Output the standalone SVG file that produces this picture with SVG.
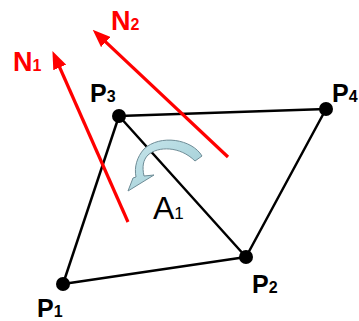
<svg xmlns="http://www.w3.org/2000/svg" width="359" height="321" viewBox="0 0 359 321">
<style>
.edge{stroke:#000;stroke-width:2.5;fill:none;stroke-linecap:round}
.dot{fill:#000}
.plab{font-family:"Liberation Sans",Arial,sans-serif;font-weight:bold;font-size:25px;fill:#000}
.nlab{font-family:"Liberation Sans",Arial,sans-serif;font-weight:bold;font-size:27px;fill:#ff0000}
.sub{font-size:16px}
.normal{stroke:#ff0000;stroke-width:3.2;fill:none}
.alab{font-family:"Liberation Sans",Arial,sans-serif;font-size:32px;fill:#000}
</style>
<defs>
<marker id="redhead" viewBox="0 -7 18 14" markerWidth="18" markerHeight="14" refX="1" refY="0" orient="auto" markerUnits="userSpaceOnUse">
<path d="M0,-7 L18,0 L0,7 Z" fill="#ff0000"/>
</marker>
<linearGradient id="rotgrad" x1="0" y1="0" x2="1" y2="1">
<stop offset="0" stop-color="#c8e6ec"/>
<stop offset="1" stop-color="#9ccbd3"/>
</linearGradient>
</defs>
<rect width="359" height="321" fill="#fff"/>
<g id="connectors">
<line class="edge" x1="63" y1="284" x2="119" y2="116"/>
<line class="edge" x1="119" y1="116" x2="326" y2="109"/>
<line class="edge" x1="326" y1="109" x2="246" y2="257"/>
<line class="edge" x1="246" y1="257" x2="63" y2="284"/>
<line class="edge" x1="119" y1="116" x2="246" y2="257"/>
</g>
<g id="N1">
<line class="normal" x1="128" y1="222" x2="59.3" y2="66.5" marker-end="url(#redhead)"/>
<text class="nlab" x="13" y="71">N<tspan class="sub" font-size="17">1</tspan></text>
</g>
<g id="N2">
<line class="normal" x1="228" y1="157" x2="105.1" y2="41.3" marker-end="url(#redhead)"/>
<text class="nlab" x="111" y="30">N<tspan class="sub" font-size="17">2</tspan></text>
</g>
<g id="rotation">
<path d="M202,156 C192,139 160,134 144,149 C137,157 134,167 136,177 L133,178 L128,191 L154,175 L144,176 C142,167 143,160 148,155 C158,146 180,146 195,161 Z" fill="url(#rotgrad)" stroke="#6e8c96" stroke-width="1"/>
</g>
<g id="A1">
<text class="alab" x="153" y="219">A<tspan font-size="17">1</tspan></text>
</g>
<g id="P1">
<circle class="dot" cx="63" cy="284" r="7"/>
<text class="plab" x="37" y="317">P<tspan class="sub">1</tspan></text>
</g>
<g id="P2">
<circle class="dot" cx="246" cy="257" r="7"/>
<text class="plab" x="252" y="293">P<tspan class="sub">2</tspan></text>
</g>
<g id="P3">
<circle class="dot" cx="119" cy="116" r="7"/>
<text class="plab" x="90" y="102">P<tspan class="sub">3</tspan></text>
</g>
<g id="P4">
<circle class="dot" cx="326" cy="109" r="7"/>
<text class="plab" x="332" y="102">P<tspan class="sub">4</tspan></text>
</g>
</svg>
